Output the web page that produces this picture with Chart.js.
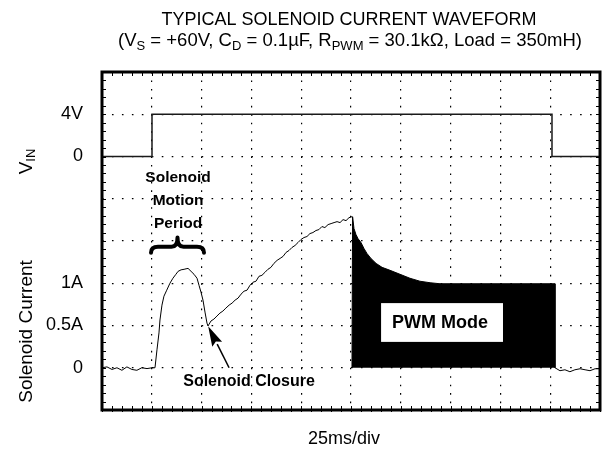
<!DOCTYPE html>
<html>
<head>
<meta charset="utf-8">
<script src="https://cdn.jsdelivr.net/npm/chart.js@4.4.0/dist/chart.umd.min.js"></script>
<style>html,body{margin:0;padding:0;background:#fff}canvas{display:block}</style>
</head>
<body>
<canvas id="c" width="602" height="451"></canvas>
<script>
// ---- data (time in ms, 25 ms/div) ----
const vinTime  = [0, 25.1, 25.1, 225.9, 225.9, 250];
const vinVolts = [0, 0, 4, 4, 0, 0];

const currentTime = [0, 2.5, 5, 7.5, 10, 12.5, 15, 17.5, 20, 22.6, 25.1, 26.6,
  27.6, 28.6, 29.1, 30.1, 31.1, 32.5, 34.1, 35.6, 37.1, 38.2, 39.7, 41.2, 42.2, 43.2,
  44.7, 46.2, 47.7, 48.7, 49.7, 50.7, 51.7, 52.7, 53.2,
  54.7, 56.2, 57.7, 59.2, 60.7, 62.2, 63.8, 65.3, 66.8, 68.3, 69.8, 71.3, 72.8, 74.3,
  75.8, 77.3, 78.8, 80.3, 81.8, 83.3, 84.8, 86.3, 87.9, 89.4, 90.9, 92.4, 93.9, 95.4,
  96.9, 98.4, 99.9, 101.4, 102.9, 104.4, 105.9, 107.4, 108.9, 110.4, 111.9, 113.5,
  115.0, 116.5, 118.0, 119.5, 121.0, 122.5, 124.0, 125.5];
const currentAmps = [0, 0.01, -0.02, 0.0, -0.03, 0.01, -0.02, -0.03, 0.0, -0.01, 0.0, 0.0,
  0.212, 0.412, 0.565, 0.741, 0.847, 0.918, 1.0, 1.059, 1.106, 1.141, 1.159, 1.165, 1.171, 1.176,
  1.141, 1.106, 1.059, 0.976, 0.894, 0.8, 0.659, 0.529, 0.494,
  0.553, 0.576, 0.612, 0.647, 0.671, 0.706, 0.741, 0.765, 0.8, 0.824, 0.871, 0.906, 0.918, 0.976,
  1.012, 1.024, 1.082, 1.094, 1.129, 1.165, 1.188, 1.235, 1.271, 1.294, 1.318, 1.365, 1.388, 1.424,
  1.447, 1.482, 1.518, 1.541, 1.553, 1.588, 1.6, 1.624, 1.635, 1.671, 1.659, 1.694,
  1.706, 1.718, 1.729, 1.718, 1.753, 1.741, 1.776, 1.788];

const pwmTime = [125.5, 125.8, 126.5, 127.5, 128.5, 130.0, 131.5, 133.0, 135.0, 137.6,
  140.6, 144.6, 149.6, 154.6, 159.6, 164.7, 169.7, 227.4, 227.4];
const pwmAmps = [0, 1.788, 1.647, 1.576, 1.529, 1.482, 1.412, 1.353, 1.294, 1.235,
  1.188, 1.153, 1.106, 1.059, 1.024, 1.006, 0.994, 0.994, 0];

const tailTime = [227.4, 229.9, 232.4, 234.9, 237.4, 240, 242.5, 245, 247.5, 250];
const tailAmps = [0, -0.035, -0.024, -0.047, -0.024, -0.012, -0.024, -0.035, -0.012, -0.012];

const currentTickValues = [0, 0.5, 1];
const currentTickLabels = ['0', '0.5A', '1A'];
const vinTickValues = [0, 4];
const vinTickLabels = ['0', '4V'];

const titleLine1 = 'TYPICAL SOLENOID CURRENT WAVEFORM';
// [text, isSubscript]
const titleLine2 = [['(V', 0], ['S', 1], [' = +60V, C', 0], ['D', 1], [' = 0.1\u00B5F, R', 0], ['PWM', 1],
  [' = 30.1k\u03A9, Load = 350mH)', 0]];
const xAxisTitle = '25ms/div';
const currentAxisTitle = 'Solenoid Current';

// annotations, in data units (ms, A)
const ann = {
  motion: { t: 38.2, lines: ['Solenoid', 'Motion', 'Period'], amps: [2.247, 1.976, 1.706] },
  brace: { t0: 24.1, t1: 51.7, ampTip: 1.541, ampEnd: 1.36 },
  closure: { t: 73.8, a: -0.165, text: 'Solenoid Closure', tail: [63.8, 0.0], tip: [53.3, 0.49] },
  pwm: { t0: 140.1, t1: 201.3, a0: 0.306, a1: 0.765, text: 'PWM Mode' }
};

const zip = (xs, ys) => xs.map((v, i) => ({ x: v, y: ys[i] }));
const FONT = '"Liberation Sans", Arial, Helvetica, sans-serif';
Chart.defaults.font.family = FONT;
Chart.defaults.color = '#000';

const VMIN = -24, VMAX = 8, IMIN = -0.5, IMAX = 3.5;
const near = (a, b) => Math.abs(a - b) < 1e-6;

function tickLabel(v) {
  for (let i = 0; i < currentTickValues.length; i++) if (near(v, currentTickValues[i])) return currentTickLabels[i];
  const volts = VMIN + (v - IMIN) * (VMAX - VMIN) / (IMAX - IMIN);
  for (let i = 0; i < vinTickValues.length; i++) if (near(volts, vinTickValues[i])) return vinTickLabels[i];
  return '';
}

const deco = {
  id: 'deco',
  afterDatasetsDraw(chart) {
    const { ctx, scales: { x, y } } = chart;
    ctx.save();
    // PWM label box
    const p = ann.pwm;
    const bx0 = x.getPixelForValue(p.t0), bx1 = x.getPixelForValue(p.t1);
    const by0 = y.getPixelForValue(p.a1), by1 = y.getPixelForValue(p.a0);
    ctx.fillStyle = '#fff';
    ctx.fillRect(bx0, by0, bx1 - bx0, by1 - by0);
    ctx.fillStyle = '#000';
    ctx.font = 'bold 18px ' + FONT;
    ctx.textAlign = 'center';
    ctx.textBaseline = 'middle';
    ctx.fillText(p.text, (bx0 + bx1) / 2 - 2, (by0 + by1) / 2 + 1);

    // Solenoid Motion Period
    ctx.font = 'bold 15.5px ' + FONT;
    ann.motion.lines.forEach((s, i) => ctx.fillText(s, x.getPixelForValue(ann.motion.t), y.getPixelForValue(ann.motion.amps[i])));

    // brace
    const b = ann.brace;
    const x0 = x.getPixelForValue(b.t0), x1 = x.getPixelForValue(b.t1);
    const yt = y.getPixelForValue(b.ampTip), ye = y.getPixelForValue(b.ampEnd);
    const xm = (x0 + x1) / 2, ym = ye - 6;
    ctx.strokeStyle = '#000';
    ctx.lineWidth = 4;
    ctx.lineCap = 'round';
    ctx.lineJoin = 'round';
    ctx.beginPath();
    ctx.moveTo(x0 + 1, ye);
    ctx.quadraticCurveTo(x0 + 1, ym, x0 + 8, ym);
    ctx.lineTo(xm - 6, ym);
    ctx.quadraticCurveTo(xm, ym, xm, yt);
    ctx.quadraticCurveTo(xm, ym, xm + 6, ym);
    ctx.lineTo(x1 - 8, ym);
    ctx.quadraticCurveTo(x1 - 1, ym, x1 - 1, ye);
    ctx.stroke();

    // Solenoid Closure + arrow
    const c = ann.closure;
    ctx.font = 'bold 16px ' + FONT;
    ctx.fillText(c.text, x.getPixelForValue(c.t), y.getPixelForValue(c.a));
    const tx = x.getPixelForValue(c.tail[0]), ty = y.getPixelForValue(c.tail[1]);
    const hx = x.getPixelForValue(c.tip[0]), hy = y.getPixelForValue(c.tip[1]);
    const dx = hx - tx, dy = hy - ty, L = Math.hypot(dx, dy), ux = dx / L, uy = dy / L;
    const hl = 20, hw = 5.5;
    const bxp = hx - ux * hl, byp = hy - uy * hl;
    ctx.lineWidth = 1.5;
    ctx.lineCap = 'butt';
    ctx.beginPath();
    ctx.moveTo(tx, ty);
    ctx.lineTo(bxp, byp);
    ctx.stroke();
    ctx.beginPath();
    ctx.moveTo(hx, hy);
    ctx.lineTo(bxp - uy * hw, byp + ux * hw);
    ctx.lineTo(bxp + ux * 3, byp + uy * 3);
    ctx.lineTo(bxp + uy * hw, byp - ux * hw);
    ctx.closePath();
    ctx.fill();
    ctx.restore();
  },
  afterDraw(chart) {
    const { ctx, chartArea: a, scales: { x, y } } = chart;
    ctx.save();
    // minor ticks on frame
    ctx.strokeStyle = '#000';
    ctx.lineWidth = 1;
    for (let t = 0; t <= 250; t += 5) {
      const px = Math.round(x.getPixelForValue(t)) + 0.5;
      ctx.beginPath();
      ctx.moveTo(px, a.top); ctx.lineTo(px, a.top + 4);
      ctx.moveTo(px, a.bottom - 4); ctx.lineTo(px, a.bottom + 2);
      ctx.stroke();
    }
    for (let k = 0; k <= 40; k++) {
      const py = Math.round(y.getPixelForValue(IMIN + k * 0.1)) + 0.5;
      ctx.beginPath();
      ctx.moveTo(a.left, py); ctx.lineTo(a.left + 4, py);
      ctx.moveTo(a.right - 4, py); ctx.lineTo(a.right, py);
      ctx.stroke();
    }
    // frame
    ctx.lineWidth = 3;
    ctx.strokeRect(a.left, a.top, a.right - a.left, a.bottom - a.top);

    // titles
    ctx.fillStyle = '#000';
    ctx.textBaseline = 'alphabetic';
    ctx.textAlign = 'center';
    const cx = (a.left + a.right) / 2 - 2;
    ctx.font = '18px ' + FONT;
    ctx.fillText(titleLine1, cx, 25);
    // line 2 with subscripts
    const mainF = '18.5px ' + FONT, subF = '13px ' + FONT;
    let w = 0;
    titleLine2.forEach(([s, sub]) => { ctx.font = sub ? subF : mainF; w += ctx.measureText(s).width; });
    let xx = cx + 1 - w / 2;
    ctx.textAlign = 'left';
    titleLine2.forEach(([s, sub]) => {
      ctx.font = sub ? subF : mainF;
      ctx.fillText(s, xx, sub ? 50 : 46);
      xx += ctx.measureText(s).width;
    });

    // x axis title
    ctx.textAlign = 'center';
    ctx.textBaseline = 'middle';
    ctx.font = '18px ' + FONT;
    ctx.fillText(xAxisTitle, cx - 5, 439);

    // y titles (rotated)
    ctx.textBaseline = 'alphabetic';
    ctx.save();
    ctx.translate(32, y.getPixelForValue(0.5) + 6);
    ctx.rotate(-Math.PI / 2);
    ctx.font = '19px ' + FONT;
    ctx.fillText(currentAxisTitle, 0, 0);
    ctx.restore();

    ctx.save();
    ctx.translate(32, y.getPixelForValue(2.5) + 5);
    ctx.rotate(-Math.PI / 2);
    ctx.textAlign = 'left';
    ctx.font = '19px ' + FONT;
    const wv = ctx.measureText('V').width;
    ctx.font = '13px ' + FONT;
    const wi = ctx.measureText('IN').width;
    const start = -(wv + wi) / 2;
    ctx.font = '19px ' + FONT;
    ctx.fillText('V', start, 0);
    ctx.font = '13px ' + FONT;
    ctx.fillText('IN', start + wv, 3);
    ctx.restore();

    ctx.restore();
  }
};

new Chart(document.getElementById('c'), {
  type: 'line',
  data: {
    datasets: [
      { label: 'VIN', data: zip(vinTime, vinVolts), yAxisID: 'yv', borderColor: '#1a1a1a', borderWidth: 1.5, fill: false },
      { label: 'PWM', data: zip(pwmTime, pwmAmps), yAxisID: 'y', borderColor: '#000', backgroundColor: '#000', borderWidth: 1, fill: 'origin' },
      { label: 'Current', data: zip(currentTime, currentAmps), yAxisID: 'y', borderColor: '#000', borderWidth: 1, fill: false },
      { label: 'Tail', data: zip(tailTime, tailAmps), yAxisID: 'y', borderColor: '#000', borderWidth: 1, fill: false }
    ]
  },
  options: {
    responsive: false,
    animation: false,
    devicePixelRatio: 1,
    layout: { padding: { top: 72, right: 2, bottom: 41, left: 0 } },
    elements: { point: { radius: 0 }, line: { tension: 0 } },
    plugins: { legend: { display: false }, tooltip: { enabled: false }, title: { display: false } },
    scales: {
      x: {
        type: 'linear', min: 0, max: 250,
        ticks: { display: false, stepSize: 25 },
        grid: { color: '#000', lineWidth: 1.2, drawTicks: false },
        border: { display: false, dash: [1.6, 6.85] },
        afterFit: s => { s.height = 0; }
      },
      y: {
        type: 'linear', min: IMIN, max: IMAX, position: 'left',
        ticks: { stepSize: 0.5, autoSkip: false, padding: 19, font: { size: 18 }, color: '#000', callback: v => tickLabel(v) },
        grid: { color: '#000', lineWidth: 1.2, drawTicks: false },
        border: { display: false, dash: [1.6, 8.36] },
        afterFit: s => { s.width = 102; }
      },
      yv: { type: 'linear', min: VMIN, max: VMAX, display: false }
    }
  },
  plugins: [deco]
});
</script>
</body>
</html>
